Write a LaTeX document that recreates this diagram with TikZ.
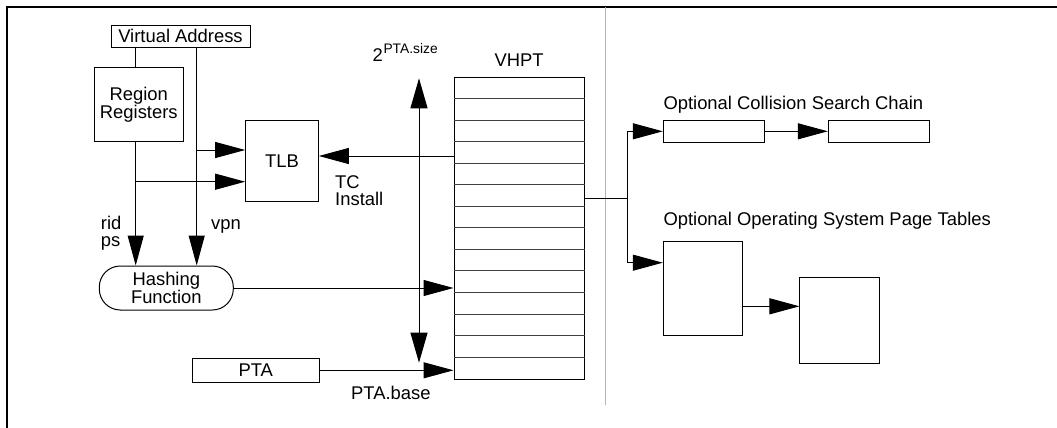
\documentclass[tikz,border=0pt]{standalone}
\usepackage{fontspec}
\setmainfont{Liberation Sans}
\usetikzlibrary{arrows.meta}
\begin{document}
\begin{tikzpicture}[x=1pt,y=-1pt,
  font=\fontsize{18.4}{18.4}\selectfont,
  box/.style={draw,line width=1pt,inner sep=0pt,align=center},
  lbl/.style={inner sep=0pt,anchor=base west},
  link/.style={line width=1pt},
  arr/.style={line width=1pt,-{Triangle[length=30pt,width=16pt]}},
  dblarr/.style={line width=1pt,{Triangle[length=30pt,width=17pt]}-{Triangle[length=30pt,width=17pt]}},
  rowline/.style={line width=0.8pt,black!75},
]
\useasboundingbox (0,0) rectangle (1057,428);
\draw[line width=1.2pt] (7,428) -- (7,7) -- (1057,7);
\draw[line width=1pt,black!30] (605.7,7) -- (605.7,405);

% boxes
\node[box,minimum width=139pt,minimum height=22.3pt] (va) at (180.5,36.2) {Virtual Address};
\node[box,minimum width=89pt,minimum height=74.4pt,font=\fontsize{18.4}{17.6}\selectfont] (rr) at (138.8,104.5) {Region\\Registers};
\node[box,minimum width=72.6pt,minimum height=81pt] (tlb) at (282,161.2) {TLB};
\node[box,rounded corners=21pt,minimum width=134pt,minimum height=44pt,font=\fontsize{18.4}{14}\selectfont] (hash) at (166.3,288) {Hashing\\Function};
\node[box,minimum width=127pt,minimum height=24pt] (pta) at (255.8,370.3) {PTA};
\node[draw,line width=1pt,inner sep=0pt,minimum width=130pt,minimum height=301.7pt] (vhpt) at (519,228.2) {};
\foreach \k in {1,...,13}
  \draw[rowline] ([yshift=-\k*21.55pt]vhpt.north west) -- ([yshift=-\k*21.55pt]vhpt.north east);
\node[box,minimum width=101pt,minimum height=22pt] (c1) at (713.8,131.3) {};
\node[box,minimum width=101.4pt,minimum height=22pt] (c2) at (879,131.3) {};
\node[box,minimum width=79.4pt,minimum height=93.6pt] (p1) at (703,288.5) {};
\node[box,minimum width=79.7pt,minimum height=85.6pt] (p2) at (839.8,320.5) {};

% helper coordinates
\coordinate (vx1) at (135.7,0);
\coordinate (vx2) at (196.7,0);
\coordinate (ty1) at (0,150);
\coordinate (ty2) at (0,181.7);
\coordinate (ty3) at (0,156);
\coordinate (st) at (419,78.3);
\coordinate (sb) at (419,362.7);
\coordinate (br) at (627,198.3);
\coordinate (py) at (0,262.7);
\coordinate (qy) at (0,306.3);

% connectors
\draw[link] (va.south -| vx1) -- (rr.north -| vx1);
\draw[arr] (rr.south -| vx1) -- (hash.north -| vx1);
\draw[arr] (va.south -| vx2) -- (hash.north -| vx2);
\draw[arr] (vx2 |- ty1) -- (tlb.west |- ty1);
\draw[arr] (vx1 |- ty2) -- (tlb.west |- ty2);
\draw[arr] (vhpt.west |- ty3) -- (tlb.east |- ty3);
\draw[arr] (hash.east) -- (vhpt.west |- hash.east);
\draw[arr] (pta.east) -- (vhpt.west |- pta.east);
\draw[dblarr] (st) -- (sb);
\draw[link] (vhpt.east |- br) -- (br);
\draw[arr] (br) |- (c1.west);
\draw[arr] (br) |- (p1.west |- py);
\draw[arr] (c1.east) -- (c2.west);
\draw[arr] (p1.east |- qy) -- (p2.west |- qy);

% labels
\node[lbl] (tc) at (335,188.3) {TC};
\node[lbl] (inst) at (335,205) {Install};
\node[lbl] (rid) at (100.7,229) {rid};
\node[lbl] (ps) at (100.7,246.7) {ps};
\node[lbl] (vpn) at (211,229) {vpn};
\node[lbl] (ptab) at (351,399) {PTA.base};
\node[lbl] (two) at (372.3,61.7) {2};
\node[lbl,font=\fontsize{13.8}{13.8}\selectfont] (sz) at (383.3,54) {PTA.size};
\node[lbl] (vl) at (494.3,66.7) {VHPT};
\node[lbl] (cl) at (663.3,109) {Optional Collision Search Chain};
\node[lbl] (ol) at (663.3,225.7) {Optional Operating System Page Tables};
\end{tikzpicture}
\end{document}
